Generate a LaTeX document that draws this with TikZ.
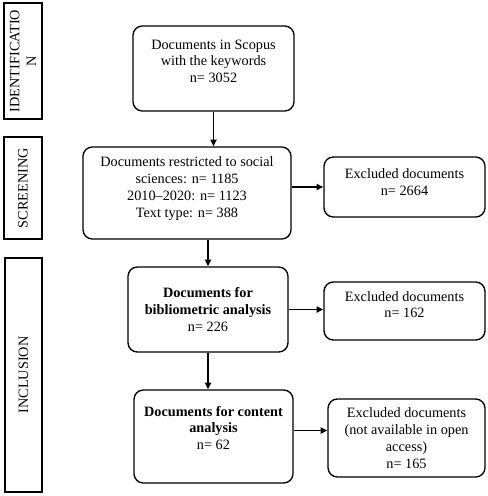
\documentclass[tikz,border=0pt]{standalone}
\usepackage{fontspec}
\setmainfont{Liberation Serif}
\usetikzlibrary{arrows.meta}
\begin{document}
\begin{tikzpicture}[x=0.75pt, y=-0.75pt, font=\fontsize{10.7}{12.6}\selectfont]
% Flow diagram, coordinates in pixels of the page
\providecommand{\flowLineWidth}{1pt}
\providecommand{\stageLineWidth}{1.6pt}
\providecommand{\flowRadius}{7pt}
\tikzset{
  stagebox/.style={draw, line width=\stageLineWidth, rotate=90, align=center, inner sep=1pt},
  flowbox/.style={draw, line width=\flowLineWidth, rounded corners=\flowRadius, align=center, inner sep=2pt},
  flowarrow/.style={-{Triangle[length=5pt,width=4.6pt]}, line width=1.1pt}
}
\useasboundingbox (0,0) rectangle (488,496);
% Stage labels on the left
\node[stagebox, minimum width=87pt, minimum height=28.5pt] (ident) at (23,61) {IDENTIFICATIO\\N};
\node[stagebox, minimum width=76.5pt, minimum height=28.5pt] (screen) at (23,188) {SCREENING};
\node[stagebox, minimum width=175.5pt, minimum height=27.75pt] (incl) at (23.5,375) {INCLUSION};
% Main column
\node[flowbox, minimum width=120.75pt, minimum height=63.75pt, text depth=11pt] (scopus) at (213.5,68.5)
  {Documents in Scopus\\with the keywords\\n= 3052};
\node[flowbox, minimum width=156pt, minimum height=69pt, text depth=9pt] (social) at (187,193)
  {Documents restricted to social\\sciences: n= 1185\\2010--2020: n= 1123\\Text type: n= 388};
\node[flowbox, minimum width=120pt, minimum height=63.75pt] (biblio) at (208,309.5)
  {\textbf{Documents for}\\\textbf{bibliometric analysis}\\n= 226};
\node[flowbox, minimum width=119.25pt, minimum height=69.75pt, text depth=12.8pt] (content) at (213.5,436.5)
  {\textbf{Documents for content}\\\textbf{analysis}\\n= 62};
% Excluded column
\node[flowbox, minimum width=120.75pt, minimum height=45pt, text depth=7.5pt] (excl1) at (404.5,187)
  {Excluded documents\\n= 2664};
\node[flowbox, minimum width=120.75pt, minimum height=43.5pt, text depth=9.8pt] (excl2) at (404.5,311)
  {Excluded documents\\n= 162};
\node[flowbox, minimum width=117.75pt, minimum height=58.5pt] (excl3) at (406.5,438)
  {Excluded documents\\(not available in open\\access)\\n= 165};
% Connectors
\draw[flowarrow] (scopus.south) -- (scopus.south |- social.north);
\draw[flowarrow] (excl1.west -| social.east) -- (excl1.west);
\draw[flowarrow] (biblio.north |- social.south) -- (biblio.north);
\draw[flowarrow] (biblio.east) -- (biblio.east -| excl2.west);
\draw[flowarrow] (biblio.south) -- (biblio.south |- content.north);
\draw[flowarrow] ([yshift=4.5pt]content.east) -- ([yshift=4.5pt]content.east -| excl3.west);
\end{tikzpicture}
\end{document}
